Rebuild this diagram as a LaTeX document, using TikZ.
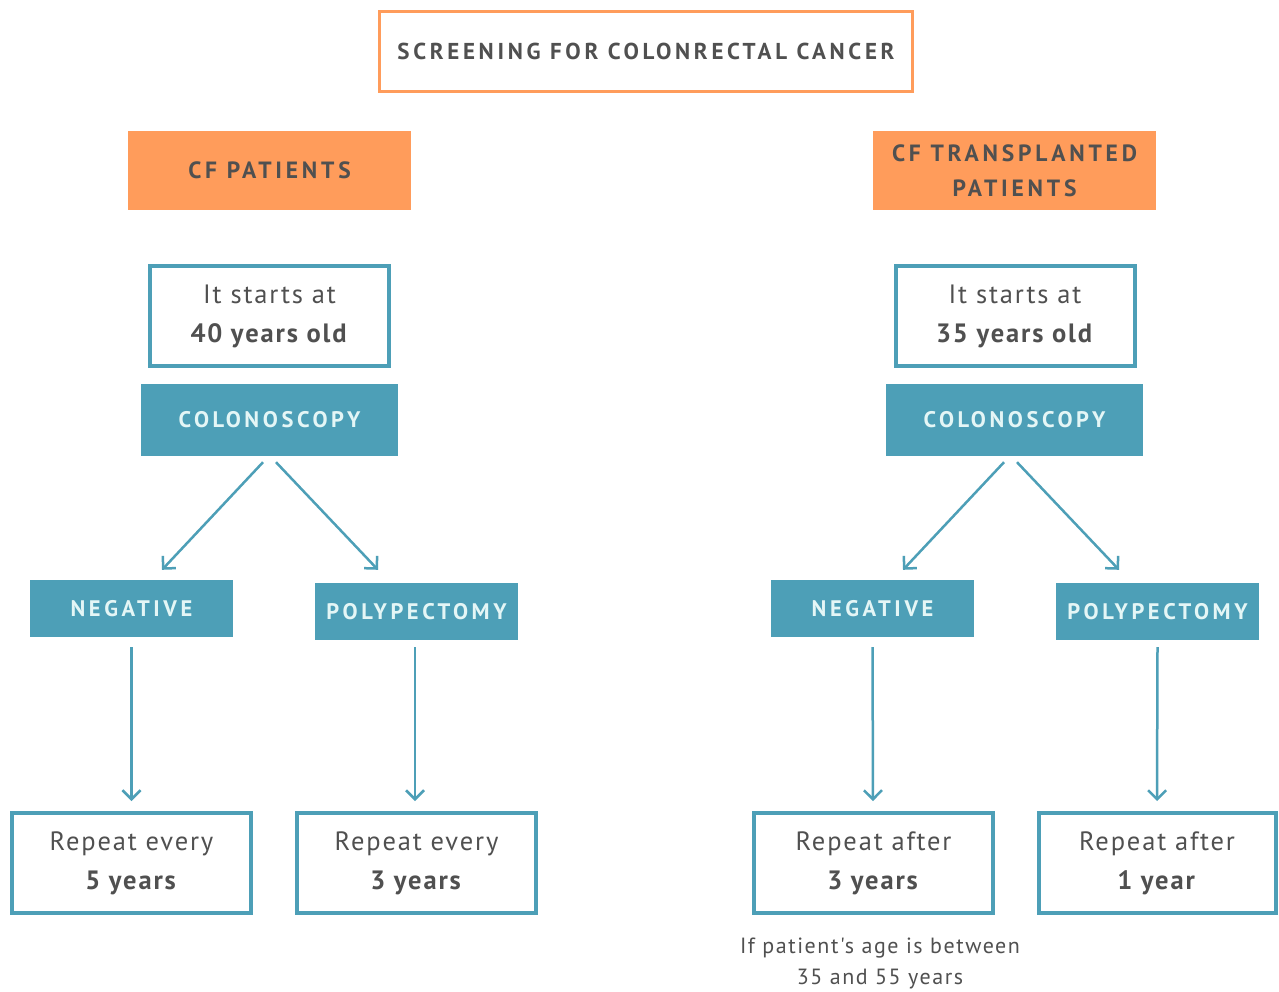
\documentclass[tikz,border=0pt]{standalone}
\usepackage{fontspec}
\setmainfont{PT Sans}
\newfontfamily\capsfnt[LetterSpace=16]{PT Sans}
\newfontfamily\bodyfnt[LetterSpace=7]{PT Sans}
\usetikzlibrary{arrows.meta}
\definecolor{orng}{HTML}{FF9C5B}
\definecolor{tealc}{HTML}{4D9FB7}
\definecolor{txt}{HTML}{505050}
\definecolor{lighttxt}{HTML}{E4F6F6}
\tikzset{
  titlebox/.style={draw=orng, line width=3pt, fill=white, minimum width=533pt, minimum height=80pt, inner sep=0pt,
    text=txt, font=\capsfnt\bfseries\fontsize{23}{26}\selectfont},
  groupbox/.style={fill=orng, minimum width=283pt, minimum height=79pt, inner sep=0pt, align=center,
    text=txt, font=\capsfnt\bfseries\fontsize{23.5}{35}\selectfont},
  outbox/.style={draw=tealc, line width=4pt, fill=white, minimum width=239pt, minimum height=100pt, inner sep=0pt, align=center,
    text=txt, font=\bodyfnt\fontsize{26.5}{39}\selectfont},
  tealbox/.style={fill=tealc, inner sep=0pt, text=lighttxt, font=\capsfnt\bfseries\fontsize{22.5}{26}\selectfont},
  arr/.style={draw=tealc, line width=2.5pt, -{Straight Barb[length=9pt,width=18pt,line width=2.5pt]}},
  note/.style={align=center, text=txt, inner sep=0pt, font=\bodyfnt\fontsize{22}{31}\selectfont}
}
\begin{document}
\begin{tikzpicture}[x=1pt,y=-1pt]
\useasboundingbox (0,0) rectangle (1279,991);
\fill[white] (0,0) rectangle (1279,991);

\node[titlebox] (title) at (646,51.5) {SCREENING FOR COLONRECTAL CANCER};

% left column
\node[groupbox] (cfp) at (269.5,170.5) {CF PATIENTS};
\node[outbox] (s1) at (269.5,316) {It starts at\\\textbf{40 years old}};
\node[tealbox, minimum width=257pt, minimum height=72pt] (c1) at (269.5,420) {COLONOSCOPY};
\node[tealbox, minimum width=203pt, minimum height=57pt] (n1) at (131.5,608.5) {NEGATIVE};
\node[tealbox, minimum width=203pt, minimum height=57pt] (p1) at (416.5,611.5) {POLYPECTOMY};
\node[outbox] (r1) at (131.5,863) {Repeat every\\\textbf{5 years}};
\node[outbox] (r2) at (416.5,863) {Repeat every\\\textbf{3 years}};

% right column
\node[groupbox] (cft) at (1014.5,170.5) {CF TRANSPLANTED\\PATIENTS};
\node[outbox] (s2) at (1015,316) {It starts at\\\textbf{35 years old}};
\node[tealbox, minimum width=257pt, minimum height=72pt] (c2) at (1014.5,420) {COLONOSCOPY};
\node[tealbox, minimum width=203pt, minimum height=57pt] (n2) at (872.5,608.5) {NEGATIVE};
\node[tealbox, minimum width=203pt, minimum height=57pt] (p2) at (1157.5,611.5) {POLYPECTOMY};
\node[outbox] (r3) at (873.5,863) {Repeat after\\\textbf{3 years}};
\node[outbox, minimum width=237pt] (r4) at (1157,863) {Repeat after\\\textbf{1 year}};
\node[note] (nt) at (880,963) {If patient's age is between\\35 and 55 years};

% arrows left
\draw[arr] ([xshift=-6.5pt,yshift=-6pt]c1.south) -- ([xshift=30.5pt,yshift=10pt]n1.north);
\draw[arr] ([xshift=6.5pt,yshift=-6pt]c1.south) -- ([xshift=-38.5pt,yshift=13pt]p1.north);
\draw[arr] ([yshift=-10pt]n1.south) -- ([yshift=10pt]r1.north);
\draw[arr] ([xshift=-1.5pt,yshift=-7pt]p1.south) -- ([xshift=-1.5pt,yshift=10pt]r2.north);

% arrows right
\draw[arr] ([xshift=-10.5pt,yshift=-6pt]c2.south) -- ([xshift=30.5pt,yshift=10pt]n2.north);
\draw[arr] ([xshift=2.5pt,yshift=-6pt]c2.south) -- ([xshift=-38.5pt,yshift=13pt]p2.north);
\draw[arr] ([yshift=-10pt]n2.south) -- ([xshift=-0.5pt,yshift=10pt]r3.north);
\draw[arr] ([yshift=-7pt]p2.south) -- ([yshift=10pt]r4.north);
\end{tikzpicture}
\end{document}
